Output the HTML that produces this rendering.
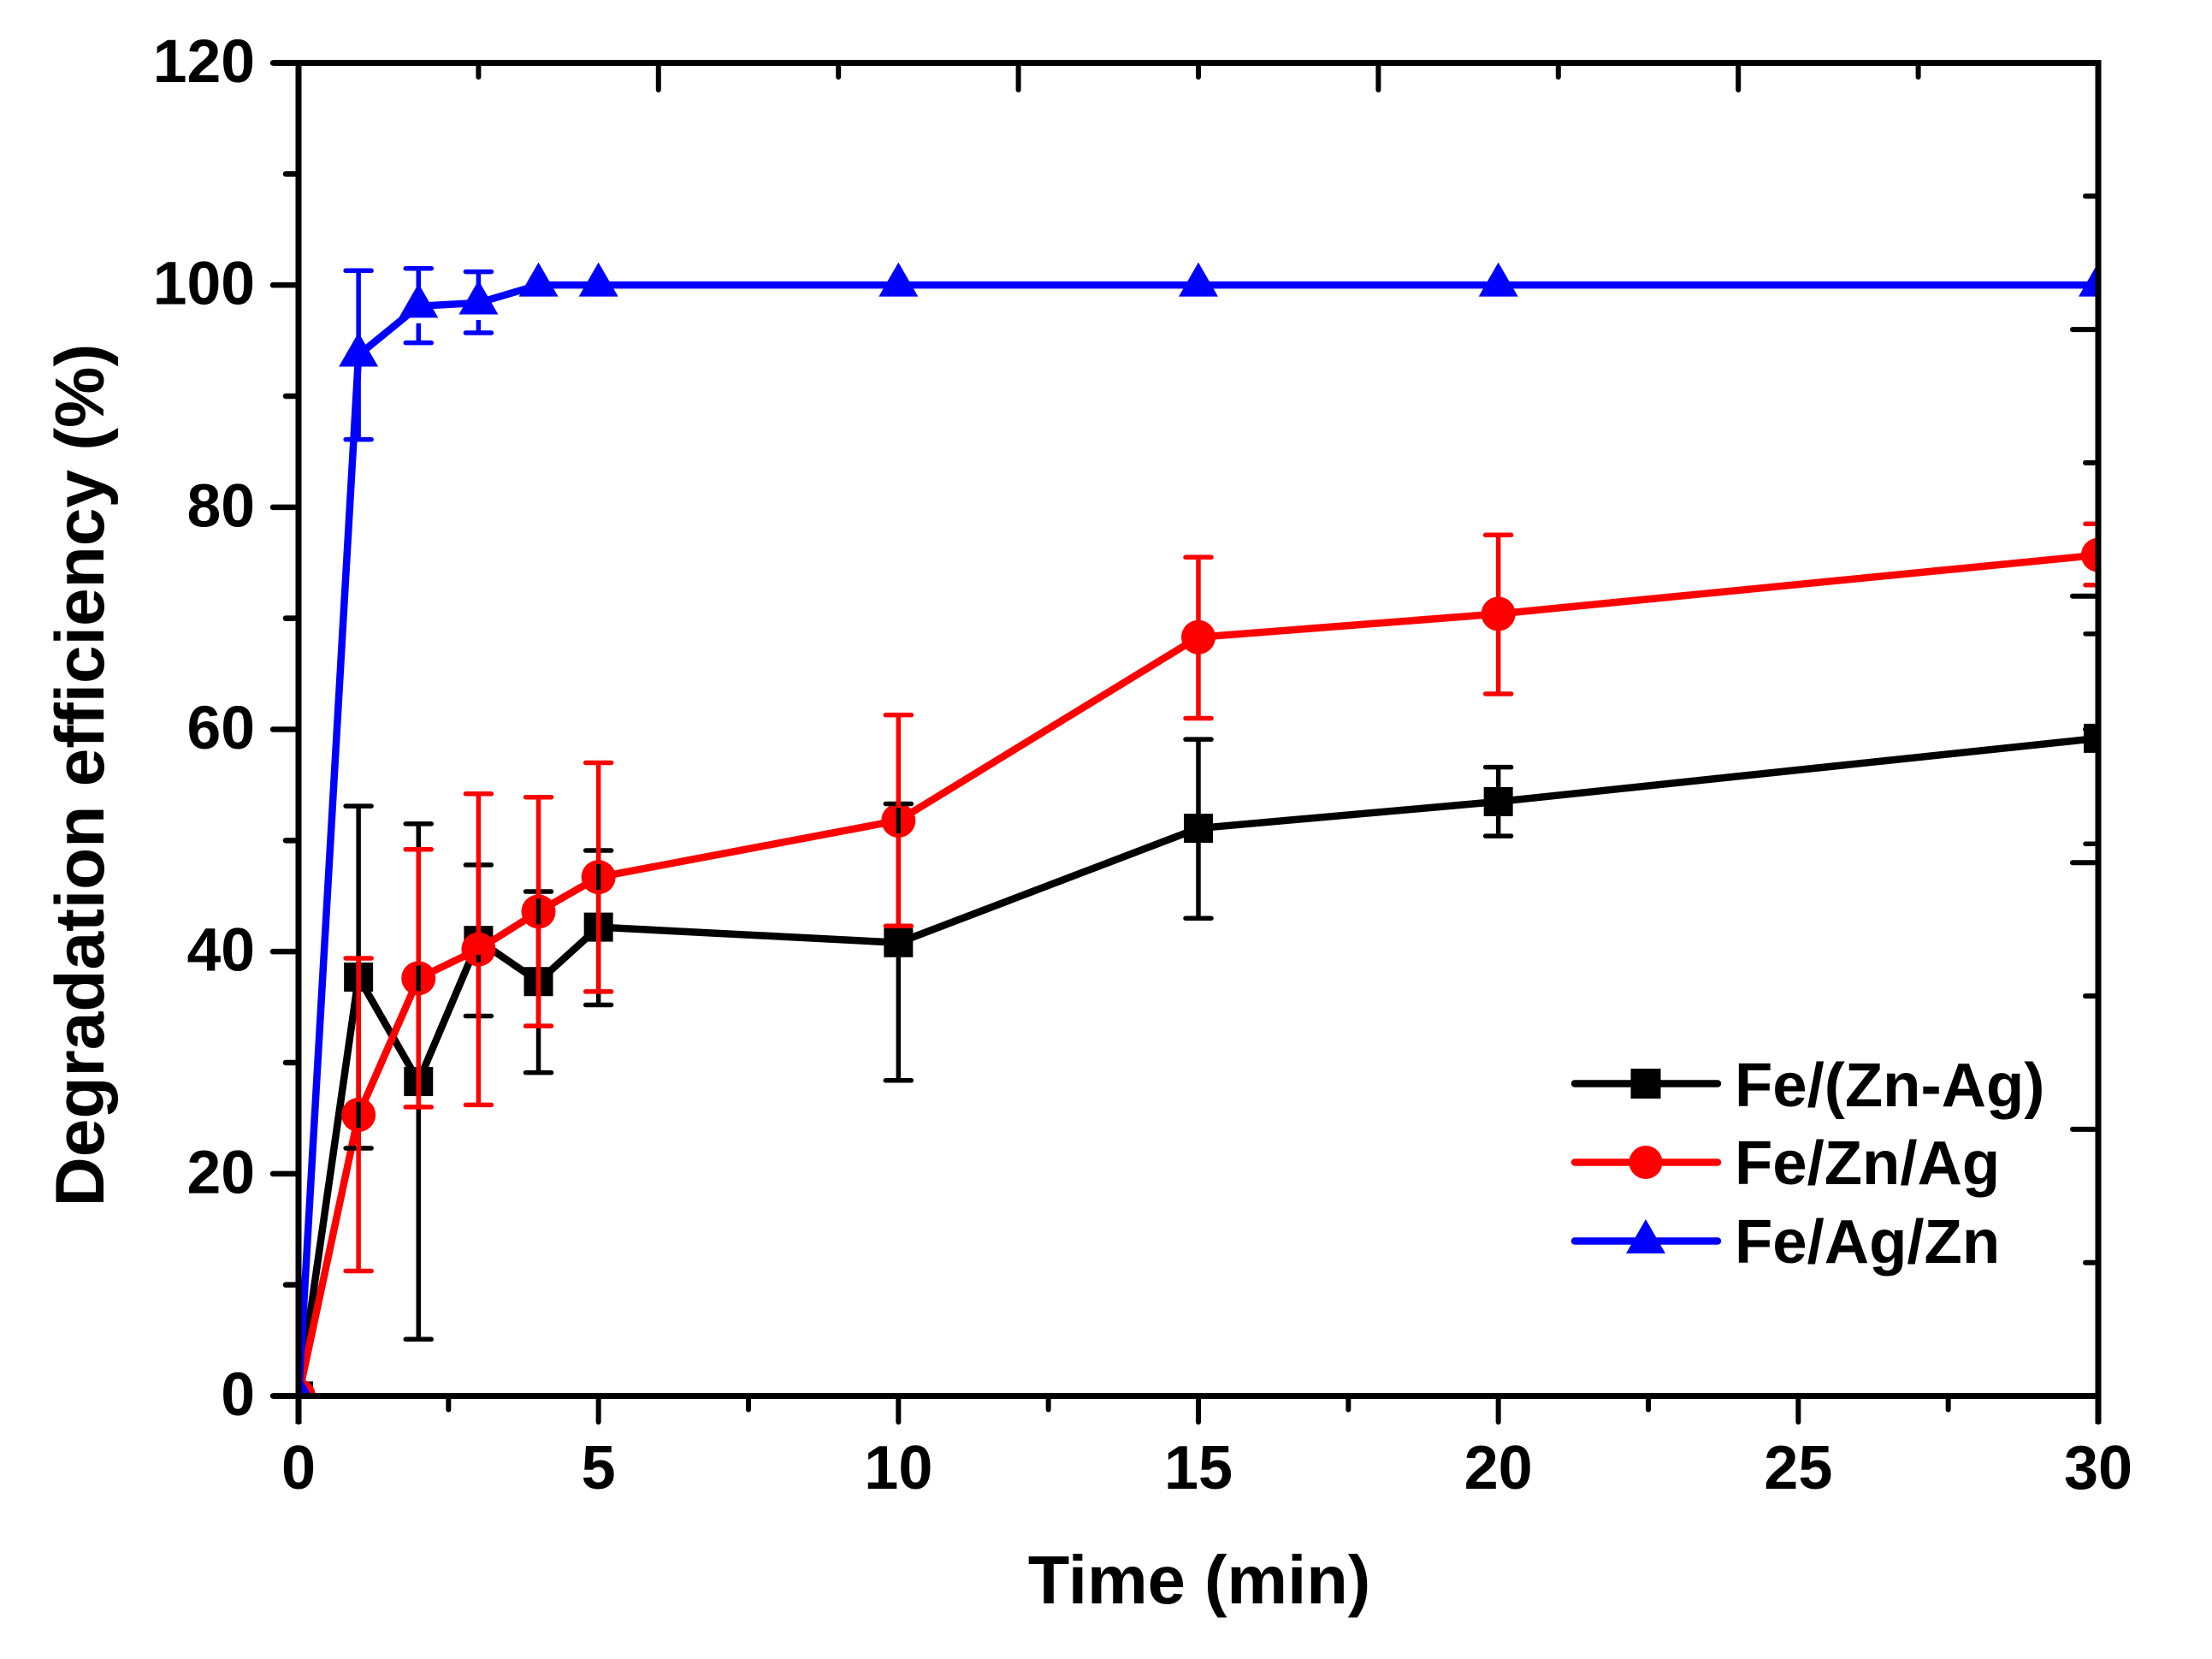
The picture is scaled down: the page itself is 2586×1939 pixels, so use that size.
<!DOCTYPE html>
<html lang="en">
<head>
<meta charset="utf-8">
<title>Degradation efficiency vs time</title>
<style>
html,body{margin:0;padding:0;background:#fff;}
svg{display:block;}
text{font-family:"Liberation Sans",Arial,sans-serif;font-weight:bold;fill:#000;font-variant-ligatures:none;}
</style>
</head>
<body>
<svg id="chart" xmlns="http://www.w3.org/2000/svg" width="2586" height="1939" viewBox="0 0 2586 1939">
  <defs>
    <clipPath id="plot-clip"><rect x="349" y="73" width="2104" height="1558.5"/></clipPath>
  </defs>
  <rect x="0" y="0" width="2586" height="1939" fill="#fff"/>
  <g id="marks" clip-path="url(#plot-clip)"></g>
  <g id="axes"></g>
  <text x="1402" y="1874" font-size="79.5" text-anchor="middle">Time (min)</text>
  <text transform="translate(121 906) rotate(-90)" font-size="80.3" text-anchor="middle">Degradation efficiency (%)</text>
  <g>
    <g>
      <line x1="1841" y1="1266.5" x2="2008" y2="1266.5" stroke="#000" stroke-width="8.5" stroke-linecap="round"/>
      <rect x="1906.5" y="1249" width="35" height="35" fill="#000"/>
      <text x="2028" y="1293" font-size="72.5">Fe/(Zn-Ag)</text>
    </g>
    <g>
      <line x1="1841" y1="1358.5" x2="2008" y2="1358.5" stroke="#f00" stroke-width="8.5" stroke-linecap="round"/>
      <circle cx="1924" cy="1358.5" r="19.5" fill="#f00"/>
      <text x="2028" y="1384" font-size="72.5">Fe/Zn/Ag</text>
    </g>
    <g>
      <line x1="1841" y1="1450.5" x2="2008" y2="1450.5" stroke="#00f" stroke-width="8.5" stroke-linecap="round"/>
      <polygon points="1924,1425 1947,1465 1901,1465" fill="#00f"/>
      <text x="2028" y="1476" font-size="72.5">Fe/Ag/Zn</text>
    </g>
  </g>
</svg>
<script>
// ---- chart data ----
const timePoints = [0, 1, 2, 3, 4, 5, 10, 15, 20, 30];

const blackValues = [0, 37.7, 28.3, 41.0, 37.3, 42.2, 40.8, 51.1, 53.5, 59.2];
const blackUpper  = [0, 53.1, 51.5, 47.8, 45.4, 49.1, 53.3, 59.1, 56.6, 68.6];
const blackLower  = [0, 22.3, 5.1, 34.2, 29.1, 35.2, 28.4, 43.0, 50.4, 49.7];

const redValues = [0, 25.3, 37.6, 40.2, 43.6, 46.7, 51.8, 68.3, 70.4, 75.7];
const redUpper  = [0, 39.4, 49.2, 54.2, 53.9, 57.0, 61.3, 75.5, 77.5, 78.5];
const redLower  = [0, 11.25, 26.0, 26.2, 33.3, 36.4, 42.3, 61.0, 63.2, 73.0];

const blueValues = [0, 93.7, 98.1, 98.4, 100, 100, 100, 100, 100, 100];
const blueUpper  = [0, 101.3, 101.5, 101.2, 100, 100, 100, 100, 100, 100];
const blueLower  = [0, 86.1, 94.8, 95.7, 100, 100, 100, 100, 100, 100];

const yTickLabels = [0, 20, 40, 60, 80, 100, 120];
const yMinorTicks = [10, 30, 50, 70, 90, 110];
const xTickLabels = [0, 5, 10, 15, 20, 25, 30];
const xMinorTicks = [2.5, 7.5, 12.5, 17.5, 22.5, 27.5];
const topMajorTicks = [6, 12, 18, 24];
const topMinorTicks = [3, 9, 15, 21, 27];
const rightMajorTicks = [2, 4, 6, 8];
const rightMinorTicks = [1, 3, 5, 7, 9];

// ---- axis functions ----
function xScale(v) { return 349 + v * (2453 - 349) / 30; }
function yScale(v) { return 1631.5 - v * (1631.5 - 73.5) / 120; }
function rightScale(v) { return 1631.5 - v * (1631.5 - 73.5) / 10; }

const NS = 'http://www.w3.org/2000/svg';
const marks = document.getElementById('marks');
const axes = document.getElementById('axes');

function drawLine(parent, x1, y1, x2, y2, color, width, cap) {
  const el = document.createElementNS(NS, 'line');
  el.setAttribute('x1', x1);
  el.setAttribute('y1', y1);
  el.setAttribute('x2', x2);
  el.setAttribute('y2', y2);
  el.setAttribute('stroke', color);
  el.setAttribute('stroke-width', width);
  el.setAttribute('stroke-linecap', cap || 'butt');
  parent.appendChild(el);
  return el;
}

function drawSeries(name, color, values, shape) {
  const g = document.createElementNS(NS, 'g');
  
  
  marks.appendChild(g);

  const path = document.createElementNS(NS, 'polyline');
  path.setAttribute('points', timePoints.map((t, i) => xScale(t) + ',' + yScale(values[i])).join(' '));
  path.setAttribute('fill', 'none');
  path.setAttribute('stroke', color);
  path.setAttribute('stroke-width', '8.5');
  path.setAttribute('stroke-linejoin', 'round');
  
  
  g.appendChild(path);

  timePoints.forEach((t, i) => {
    const cx = xScale(t);
    const cy = yScale(values[i]);
    let m;
    if (shape === 'square') {
      m = document.createElementNS(NS, 'rect');
      m.setAttribute('x', cx - 17);
      m.setAttribute('y', cy - 17);
      m.setAttribute('width', 34);
      m.setAttribute('height', 34);
    } else if (shape === 'circle') {
      m = document.createElementNS(NS, 'circle');
      m.setAttribute('cx', cx);
      m.setAttribute('cy', cy);
      m.setAttribute('r', 20);
    } else {
      m = document.createElementNS(NS, 'polygon');
      m.setAttribute('points', cx + ',' + (cy - 26.5) + ' ' + (cx + 23) + ',' + (cy + 13.5) + ' ' + (cx - 23) + ',' + (cy + 13.5));
    }
    m.setAttribute('fill', color);
    
    
    g.appendChild(m);
  });
}

function drawErrors(name, color, values, upper, lower, gap) {
  const g = document.createElementNS(NS, 'g');
  
  
  marks.appendChild(g);
  timePoints.forEach((t, i) => {
    const cx = xScale(t);
    const cy = yScale(values[i]);
    const hi = yScale(upper[i]);
    const lo = yScale(lower[i]);
    if (upper[i] !== values[i]) {
      if (cy - gap > hi) drawLine(g, cx, hi, cx, cy - gap, color, 5.5);
      drawLine(g, cx - 15, hi, cx + 15, hi, color, 5.5, 'round');
    }
    if (lower[i] !== values[i]) {
      if (cy + gap < lo) drawLine(g, cx, cy + gap, cx, lo, color, 5.5);
      drawLine(g, cx - 15, lo, cx + 15, lo, color, 5.5, 'round');
    }
  });
}

drawSeries('fe-zn-ag-alloy', '#000', blackValues, 'square');
drawSeries('fe-zn-ag', '#f00', redValues, 'circle');
drawSeries('fe-ag-zn', '#00f', blueValues, 'triangle');
drawErrors('fe-zn-ag-alloy', '#000', blackValues, blackUpper, blackLower, 17);
drawErrors('fe-zn-ag', '#f00', redValues, redUpper, redLower, 15);
drawErrors('fe-ag-zn', '#00f', blueValues, blueUpper, blueLower, 20);

// ---- axis frame ----
const AXIS_W = 7;
const TICK_W = 6;
const frameLeft = drawLine(axes, 349, 70, 349, 1664, '#000', AXIS_W);


const frameRight = drawLine(axes, 2453, 70, 2453, 1664, '#000', AXIS_W);


const frameTop = drawLine(axes, 319, 73.5, 2456, 73.5, '#000', AXIS_W);


const frameBottom = drawLine(axes, 319, 1631.5, 2456, 1631.5, '#000', AXIS_W);



// ---- y ticks ----
yTickLabels.forEach(v => {
  const y = yScale(v);
  const tick = drawLine(axes, 319, y, 349, y, '#000', TICK_W + 0.5, 'round');
  
  
  const label = document.createElementNS(NS, 'text');
  label.textContent = v;
  label.setAttribute('x', 298);
  label.setAttribute('y', y + 22.5);
  label.setAttribute('font-size', 71.5);
  label.setAttribute('text-anchor', 'end');
  
  
  axes.appendChild(label);
});
yMinorTicks.forEach(v => {
  const y = yScale(v);
  const tick = drawLine(axes, 334, y, 349, y, '#000', TICK_W + 0.5, 'round');
  
  
});

// ---- x ticks ----
xTickLabels.forEach(v => {
  const x = xScale(v);
  const tick = drawLine(axes, x, 1631.5, x, 1662, '#000', TICK_W, 'round');
  
  
  const label = document.createElementNS(NS, 'text');
  label.textContent = v;
  label.setAttribute('x', x);
  label.setAttribute('y', 1740);
  label.setAttribute('font-size', 72);
  label.setAttribute('text-anchor', 'middle');
  
  
  axes.appendChild(label);
});
xMinorTicks.forEach(v => {
  const x = xScale(v);
  const tick = drawLine(axes, x, 1631.5, x, 1647.5, '#000', TICK_W, 'round');
  
  
});

// ---- top ticks ----
topMajorTicks.forEach(v => {
  const x = xScale(v);
  const tick = drawLine(axes, x, 73.5, x, 105, '#000', TICK_W, 'round');
  
  
});
topMinorTicks.forEach(v => {
  const x = xScale(v);
  const tick = drawLine(axes, x, 73.5, x, 90, '#000', TICK_W, 'round');
  
  
});

// ---- right ticks ----
rightMajorTicks.forEach(v => {
  const y = rightScale(v);
  const tick = drawLine(axes, 2423, y, 2453, y, '#000', TICK_W, 'round');
  
  
});
rightMinorTicks.forEach(v => {
  const y = rightScale(v);
  const tick = drawLine(axes, 2438, y, 2453, y, '#000', TICK_W, 'round');
  
  
});
</script>
</body>
</html>
